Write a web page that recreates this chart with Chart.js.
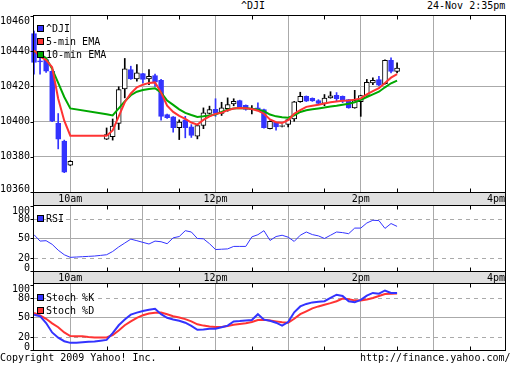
<!DOCTYPE html>
<html>
<head>
<meta charset="utf-8">
<script src="https://cdn.jsdelivr.net/npm/chart.js@4.4.0/dist/chart.umd.min.js"></script>
<style>
  body { margin: 0; background: #fff; }
  #wrap { position: relative; width: 512px; height: 365px; overflow: hidden; font: 10px "DejaVu Sans Mono", monospace; color: #000; }
  canvas, .txt { position: absolute; left: 0; }
  .txt { line-height: 12px; white-space: pre; }
</style>
</head>
<body>
<div id="wrap">
  <div class="txt" style="top:0;left:241px">^DJI</div>
  <div class="txt" style="top:0;left:427px">24-Nov 2:35pm</div>
  <canvas id="main" width="512" height="205" style="top:0"></canvas>
  <canvas id="rsi" width="512" height="78" style="top:205px"></canvas>
  <canvas id="stoch" width="512" height="75" style="top:283px"></canvas>
  <div class="txt" style="top:352px;left:0">Copyright 2009 Yahoo! Inc.</div>
  <div class="txt" style="top:352px;left:360px">http://finance.yahoo.com/</div>
</div>
<script>
// 5-minute candles (the feed has a hole between 10:00 and 10:30)
const candleTimes = ['09:30', '09:35', '09:40', '09:45', '09:50', '09:55', '10:00', '10:30', '10:35', '10:40',
    '10:45', '10:50', '10:55', '11:00', '11:05', '11:10', '11:15', '11:20', '11:25', '11:30',
    '11:35', '11:40', '11:45', '11:50', '11:55', '12:00', '12:05', '12:10', '12:15', '12:20',
    '12:25', '12:30', '12:35', '12:40', '12:45', '12:50', '12:55', '13:00', '13:05', '13:10',
    '13:15', '13:20', '13:25', '13:30', '13:35', '13:40', '13:45', '13:50', '13:55', '14:00',
    '14:05', '14:10', '14:15', '14:20', '14:25', '14:30'];
const open = [10450, 10434.5, 10435.3, 10428.6, 10399, 10389, 10375.2, 10390, 10391.5, 10399,
    10418.6, 10429.6, 10424.3, 10427.3, 10424.3, 10426.2, 10423.5, 10404, 10402.7, 10396.5,
    10401, 10397, 10391.7, 10397.8, 10404.6, 10407, 10404.6, 10407.4, 10410.1, 10412,
    10409.3, 10407, 10407.9, 10406.9, 10396, 10399.7, 10397.3, 10398.4, 10401.6, 10411.3,
    10414.4, 10413.3, 10412, 10410.3, 10413.5, 10415, 10414.4, 10412.5, 10407.8, 10411.3,
    10414.4, 10422, 10423.9, 10421.5, 10434.9, 10428.6];
const high = [10451.5, 10437, 10436, 10429, 10404.6, 10389.5, 10377.8, 10396.4, 10401.5, 10419.8,
    10435.9, 10431.5, 10432.4, 10427.5, 10429.6, 10427, 10424, 10404.3, 10402.9, 10401,
    10403, 10398.3, 10398, 10407.8, 10408.8, 10413, 10411, 10413.5, 10413, 10412.2,
    10409.5, 10409.1, 10410.7, 10407.1, 10400.5, 10399.8, 10398.2, 10401.5, 10411.5, 10416.7,
    10414.6, 10413.5, 10412.5, 10415.4, 10417, 10416.5, 10414.6, 10412.6, 10417.8, 10415,
    10424, 10424.9, 10425.8, 10435.1, 10436.2, 10433.4];
const low = [10427, 10427, 10428, 10400, 10384.5, 10371, 10375, 10389.8, 10389.5, 10395.5,
    10413.5, 10424, 10423, 10422, 10421, 10420, 10400.8, 10401.8, 10394, 10389.8,
    10390.8, 10391, 10390.2, 10396, 10404.3, 10403, 10403.5, 10405.9, 10409, 10408.2,
    10406.5, 10404.4, 10406.3, 10396.3, 10395.8, 10395.1, 10397, 10397, 10400.2, 10411,
    10411.4, 10411.5, 10409.8, 10409, 10413.3, 10411.6, 10410.8, 10407.6, 10407.6, 10403,
    10414.2, 10421, 10420.5, 10421.3, 10427.7, 10427.7];
const close = [10433.6, 10434, 10428.7, 10400.2, 10390, 10371.3, 10377.5, 10392.7, 10397.5, 10418.2,
    10430, 10424.3, 10427.7, 10424, 10425.8, 10422.4, 10403, 10402.2, 10396.5, 10399.7,
    10396.5, 10392.1, 10397.8, 10405, 10406.9, 10404.6, 10407.9, 10409.7, 10411.6, 10408.4,
    10406.9, 10407.5, 10406.5, 10396.5, 10400.2, 10397, 10397.8, 10401.2, 10411.3, 10414.4,
    10411.6, 10411.7, 10410.3, 10413.4, 10414.7, 10413, 10411.6, 10407.8, 10412, 10414.8,
    10422.4, 10423.5, 10420.7, 10434.9, 10428.6, 10430.5];
const ema5 = [10440.5, 10437, 10435, 10431, 10413, 10400.5, 10392, 10392, 10395, 10403,
    10411, 10416, 10419.5, 10421, 10422, 10422.3, 10416.5, 10409, 10405.5, 10403.3,
    10401.5, 10399.5, 10398.3, 10401, 10403, 10404.4, 10405, 10406.5, 10407.5, 10407.8,
    10407.6, 10407.2, 10406.2, 10404.5, 10401.2, 10399.7, 10399.3, 10400.8, 10404.5, 10406.6,
    10408.4, 10409, 10409.6, 10410.3, 10411, 10411.4, 10411.8, 10412, 10412.5, 10413.2,
    10415.5, 10417.3, 10419, 10422, 10425, 10427];
const ema10 = [10440, 10438.5, 10436, 10430, 10422, 10414, 10407.5, 10404.2, 10403.5, 10407.5,
    10411.5, 10415, 10417, 10418, 10418.6, 10419, 10416.5, 10412, 10409.5, 10407,
    10405, 10403.8, 10402.7, 10403, 10403.5, 10404, 10405.5, 10406.8, 10407.5, 10407.8,
    10407.6, 10407.3, 10406.8, 10406, 10404, 10403, 10402.5, 10402.2, 10403.5, 10405.5,
    10406.5, 10407, 10407.5, 10408, 10408.6, 10409, 10409.6, 10410.2, 10411, 10412.4,
    10414, 10415.5, 10417, 10419.5, 10421.8, 10423.3];

// indicator rows
const indTimes = ['09:30', '09:35', '09:40', '09:45', '09:50', '09:55', '10:00', '10:05', '10:10', '10:15',
    '10:20', '10:25', '10:30', '10:35', '10:40', '10:45', '10:50', '10:55', '11:00', '11:05',
    '11:10', '11:15', '11:20', '11:25', '11:30', '11:35', '11:40', '11:45', '11:50', '11:55',
    '12:00', '12:05', '12:10', '12:15', '12:20', '12:25', '12:30', '12:35', '12:40', '12:45',
    '12:50', '12:55', '13:00', '13:05', '13:10', '13:15', '13:20', '13:25', '13:30', '13:35',
    '13:40', '13:45', '13:50', '13:55', '14:00', '14:05', '14:10', '14:15', '14:20', '14:25', '14:30'];
const rsi = [55.8, 46, 46.6, 41, 32, 25, 21, 21.5, 22, 22.5,
    23, 24, 25, 30, 37, 43, 49, 46.6, 44, 41.5,
    46, 45, 42, 51, 53, 62, 60, 50, 49.5, 42,
    33, 33.5, 34, 37.8, 37.8, 37.8, 52.5, 55.8, 62, 47,
    53, 55, 52, 45.5, 55, 60, 56, 54, 50, 55,
    60, 59, 57.4, 66, 66, 73.8, 78, 77.5, 65.5, 73, 68.6];
const stochK = [54.3, 52, 41.5, 27, 19, 13.5, 11, 11.2, 11.8, 12.5,
    13.2, 14.3, 15.5, 26, 38, 47, 54.3, 57.5, 60, 62,
    63.5, 55, 49.5, 47, 45, 42, 37, 31, 31.5, 32.8,
    32.8, 35, 37.5, 44, 44.5, 45.3, 46, 55, 46.6, 45,
    42, 37.4, 43, 58, 67, 70.8, 73.2, 74, 75, 80,
    85, 83, 75, 73.5, 77, 83.5, 87.7, 86.6, 91.5, 87.7, 87.7];
const stochD = [57, 53, 48, 41, 35, 27, 21.5, 21, 21, 20,
    19.4, 19.4, 19.4, 23, 30, 38, 44, 49.5, 53.5, 56,
    57.3, 57.5, 55, 52, 50, 47.5, 44, 39.5, 37.5, 36.3,
    35.5, 35.4, 37, 38.9, 40, 41, 43, 46, 46.6, 45.5,
    44, 42.5, 42, 48, 55, 59.5, 64, 67, 69.5, 72,
    75, 79, 78, 76.3, 76, 77.5, 80, 83, 86, 86.6, 87];

const priceTicks = [10360, 10380, 10400, 10420, 10440, 10460];
const priceGrid = [10380, 10400, 10420, 10440];
const oscTicks = [0, 20, 50, 80, 100];
const hourLines = ['10:00', '11:00', '12:00', '13:00', '14:00', '15:00'];
const timeTicks = ['10:00', '12:00', '14:00', '16:00'];
const timeLabels = ['10am', '12pm', '2pm', '4pm'];

const BLUE = '#3333ff', RED = '#ff3333', GREEN = '#00a800';
const GRID = '#aaaaaa', BAND = '#e0e0e0';
const FONT = '10px "DejaVu Sans Mono", monospace';

// minutes since the 9:30 open
function mins(t) {
    const [h, m] = t.split(':').map(Number);
    return h * 60 + m - 570;
}
function points(times, values) {
    return times.map((t, i) => ({ x: mins(t), y: values[i] }));
}
const isUp = i => close[i] >= open[i];

function seg(ctx, x1, y1, x2, y2) {
    ctx.beginPath();
    ctx.moveTo(x1, y1);
    ctx.lineTo(x2, y2);
    ctx.stroke();
}

// frame, time band, value labels and legend in the yahoo style
const panel = {
    id: 'panel',
    beforeDraw(chart, args, o) {
        const { ctx, chartArea: a } = chart;
        if (!o.band) return;
        ctx.save();
        ctx.fillStyle = BAND;
        ctx.fillRect(a.left, a.bottom, a.right - a.left, o.band);
        ctx.restore();
    },
    beforeDatasetsDraw(chart, args, o) {
        const { ctx, chartArea: a, scales: { y } } = chart;
        ctx.save();
        ctx.strokeStyle = GRID;
        ctx.lineWidth = 1;
        ctx.setLineDash([4, 4]);
        (o.dashed || []).forEach(v => {
            const py = Math.round(y.getPixelForValue(v)) + 0.5;
            seg(ctx, a.left, py, a.right, py);
        });
        ctx.restore();
    },
    afterDraw(chart, args, o) {
        const { ctx, chartArea: a, scales: { x, y } } = chart;
        const L = a.left - 0.5, R = a.right - 0.5, T = a.top + 0.5, B = a.bottom + 0.5;
        ctx.save();
        ctx.lineWidth = 1;
        ctx.strokeStyle = '#000';
        ctx.fillStyle = '#000';
        ctx.font = FONT;

        // half hour ticks
        for (let m = 60; m < 390; m += 60) {
            const px = Math.round(x.getPixelForValue(m)) + 0.5;
            seg(ctx, px, T, px, T + 4);
            seg(ctx, px, B - 4, px, B);
        }

        ctx.strokeRect(L, T, R - L, B - T);
        if (o.band) {
            seg(ctx, L, B, L, B + o.band);
            seg(ctx, R, B, R, B + o.band);
        }

        ctx.textAlign = 'right';
        ctx.textBaseline = 'middle';
        o.ticks.forEach(v => {
            const py = y.getPixelForValue(v);
            seg(ctx, L - 3, Math.round(py) + 0.5, L, Math.round(py) + 0.5);
            ctx.fillText(String(v), L - 3.5, Math.max(a.top + 6, Math.min(a.bottom - 2.5, py)));
        });

        if (o.band) {
            ctx.textAlign = 'center';
            timeTicks.forEach((t, i) => {
                const w = ctx.measureText(timeLabels[i]).width;
                const px = Math.min(x.getPixelForValue(mins(t)), a.right - w / 2 - 1);
                ctx.fillText(timeLabels[i], px, a.bottom + o.band / 2 + 1);
            });
        }

        ctx.textAlign = 'left';
        (o.legend || []).forEach((it, i) => {
            const cy = Math.round(o.legendTop + i * 13.3);
            ctx.fillStyle = it.color;
            ctx.fillRect(37, cy - 3, 7, 7);
            ctx.strokeRect(37.5, cy - 2.5, 6, 6);
            ctx.fillStyle = '#000';
            ctx.fillText(it.text, 46, cy + 1);
        });
        ctx.restore();
    },
};

function timeScale(height) {
    return {
        type: 'linear',
        min: 0,
        max: 390,
        offset: false,
        afterBuildTicks: s => { s.ticks = hourLines.map(t => ({ value: mins(t) })); },
        ticks: { display: false },
        grid: { offset: false, drawTicks: false, color: GRID },
        border: { display: false },
        afterFit: s => { s.height = height; },
    };
}

function valueScale(min, max, ticks, gridAt) {
    return {
        min,
        max,
        beginAtZero: false,
        afterBuildTicks: s => { s.ticks = ticks.map(value => ({ value })); },
        ticks: { display: false },
        grid: {
            drawTicks: false,
            color: c => (c.tick && gridAt.includes(c.tick.value) ? GRID : 'transparent'),
        },
        border: { display: false },
        afterFit: s => { s.width = 34; },
    };
}

function baseOptions(padding, panelOpts, x, y) {
    return {
        responsive: false,
        animation: false,
        events: [],
        layout: { padding },
        plugins: {
            legend: { display: false },
            tooltip: { enabled: false },
            panel: panelOpts,
        },
        scales: { x, y },
    };
}

const lineStyle = { type: 'line', pointRadius: 0, tension: 0, fill: false };

new Chart(document.getElementById('main'), {
    type: 'bar',
    data: {
        datasets: [
            { ...lineStyle, label: '5-min EMA', data: points(candleTimes, ema5), borderColor: RED, borderWidth: 2 },
            { ...lineStyle, label: '10-min EMA', data: points(candleTimes, ema10), borderColor: GREEN, borderWidth: 2 },
            {
                label: '^DJI',
                data: candleTimes.map((t, i) => ({ x: mins(t), y: [open[i], close[i]] })),
                backgroundColor: c => (isUp(c.dataIndex) ? '#fff' : BLUE),
                borderColor: c => (isUp(c.dataIndex) ? '#000' : BLUE),
                borderWidth: 1,
                borderSkipped: false,
                barThickness: 5,
                grouped: false,
                clip: false,
            },
            {
                label: 'range',
                data: candleTimes.map((t, i) => ({ x: mins(t), y: [low[i], high[i]] })),
                backgroundColor: c => (isUp(c.dataIndex) ? '#000' : BLUE),
                borderWidth: 0,
                barThickness: 1,
                grouped: false,
                clip: false,
            },
        ],
    },
    options: baseOptions(
        { top: 15, right: 6, bottom: 0, left: 0 },
        {
            band: 13,
            ticks: priceTicks,
            legendTop: 27.5,
            legend: [
                { text: '^DJI', color: BLUE },
                { text: '5-min EMA', color: RED },
                { text: '10-min EMA', color: GREEN },
            ],
        },
        timeScale(13),
        valueScale(10360, 10460.6, priceTicks, priceGrid)
    ),
    plugins: [panel],
});

new Chart(document.getElementById('rsi'), {
    type: 'line',
    data: {
        datasets: [
            { ...lineStyle, label: 'RSI', data: points(indTimes, rsi), borderColor: BLUE, borderWidth: 1 },
        ],
    },
    options: baseOptions(
        { top: 0, right: 6, bottom: 0, left: 0 },
        { band: 12, ticks: oscTicks, dashed: [20, 80], legendTop: 13, legend: [{ text: 'RSI', color: BLUE }] },
        timeScale(12),
        valueScale(0, 101.5, oscTicks, [50])
    ),
    plugins: [panel],
});

new Chart(document.getElementById('stoch'), {
    type: 'line',
    data: {
        datasets: [
            { ...lineStyle, label: 'Stoch %K', data: points(indTimes, stochK), borderColor: BLUE, borderWidth: 2 },
            { ...lineStyle, label: 'Stoch %D', data: points(indTimes, stochD), borderColor: RED, borderWidth: 2 },
        ],
    },
    options: baseOptions(
        { top: 0, right: 6, bottom: 8, left: 0 },
        {
            band: 0,
            ticks: oscTicks,
            dashed: [20, 80],
            legendTop: 13.7,
            legend: [
                { text: 'Stoch %K', color: BLUE },
                { text: 'Stoch %D', color: RED },
            ],
        },
        timeScale(0),
        valueScale(0, 103, oscTicks, [50])
    ),
    plugins: [panel],
});
</script>
</body>
</html>
